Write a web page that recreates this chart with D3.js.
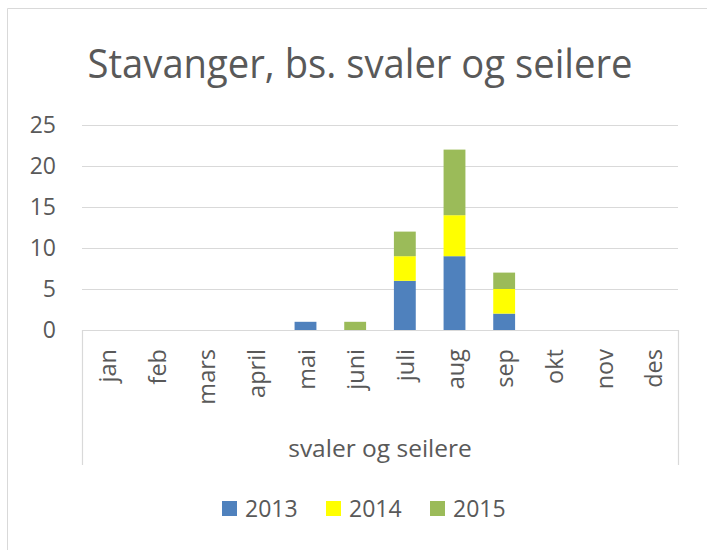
<!DOCTYPE html>
<html>
<head>
<meta charset="utf-8">
<script src="https://cdn.jsdelivr.net/npm/d3@7"></script>
<style>
  body { margin: 0; background: #fff; }
  text { font-family: "Open Sans", "Noto Sans", sans-serif; fill: #595959; }
</style>
</head>
<body>
<svg id="chart" width="707" height="550"></svg>
<script>
// chart data
let months = ['jan', 'feb', 'mars', 'april', 'mai', 'juni', 'juli', 'aug', 'sep', 'okt', 'nov', 'des'];
let years = ['2013', '2014', '2015'];
let values2013 = [0, 0, 0, 0, 1, 0, 6, 9, 2, 0, 0, 0];
let values2014 = [0, 0, 0, 0, 0, 0, 3, 5, 3, 0, 0, 0];
let values2015 = [0, 0, 0, 0, 0, 1, 3, 8, 2, 0, 0, 0];
let yTicks = [0, 5, 10, 15, 20, 25];
let colors = ['#4f81bd', '#ffff00', '#9bbb59'];
let title = 'Stavanger, bs. svaler og seilere';
let groupLabel = 'svaler og seilere';

let svg = d3.select('#chart');

// outer chart border (only left and top are in view)
svg.append('path')
    .attr('d', 'M7.5,550 V8.5 H707')
    .attr('fill', 'none')
    .attr('stroke', '#d9d9d9');

let rows = months.map((m, i) => ({
    month: m,
    '2013': values2013[i],
    '2014': values2014[i],
    '2015': values2015[i]
}));
let stacked = d3.stack().keys(years)(rows);

let x = d3.scaleBand().domain(months).range([82, 678]).paddingInner(0.56).paddingOuter(0.28);
let y = d3.scaleLinear().domain([0, 25]).range([330, 125]);

// gridlines
svg.append('g')
    .selectAll('line')
    .data(yTicks.filter(d => d > 0))
    .enter()
    .append('line')
    .attr('x1', 82).attr('x2', 678)
    .attr('y1', d => Math.round(y(d)) + 0.5)
    .attr('y2', d => Math.round(y(d)) + 0.5)
    .attr('stroke', '#d9d9d9')
    .attr('stroke-width', 1.2);

// y tick labels
svg.append('g')
    .selectAll('text')
    .data(yTicks)
    .enter()
    .append('text')
    .attr('x', 56)
    .attr('y', d => y(d) + 8)
    .attr('text-anchor', 'end')
    .style('font-size', '23px')
    .text(d => d);

// bars
svg.append('g')
    .selectAll('g')
    .data(stacked)
    .enter()
    .append('g')
    .attr('fill', (d, i) => colors[i])
    .selectAll('rect')
    .data(d => d)
    .enter()
    .append('rect')
    .attr('x', d => x(d.data.month))
    .attr('width', x.bandwidth())
    .attr('y', d => y(d[1]))
    .attr('height', d => y(d[0]) - y(d[1]));

// category box: baseline plus side lines
svg.append('path')
    .attr('d', 'M82.5,465 V330.5 H678.5 V465')
    .attr('fill', 'none')
    .attr('stroke', '#d9d9d9')
    .attr('stroke-width', 1.2);

// month labels, rotated
svg.append('g')
    .selectAll('text')
    .data(months)
    .enter()
    .append('text')
    .attr('transform', d => 'translate(' + (x(d) + x.bandwidth() / 2 + 9) + ',349) rotate(-90)')
    .attr('text-anchor', 'end')
    .style('font-size', '23.5px')
    .text(d => d);

svg.append('text')
    .attr('x', 380)
    .attr('y', 457)
    .attr('text-anchor', 'middle')
    .style('font-size', '24.5px')
    .text(groupLabel);

// title
let t = svg.append('text')
    .attr('x', 360)
    .attr('y', 78)
    .attr('text-anchor', 'middle')
    .style('font-size', '40px')
    .text(title);
let tw = t.node().getComputedTextLength();
if (tw > 545) t.attr('textLength', 545).attr('lengthAdjust', 'spacingAndGlyphs');

// legend
let legendX = [222, 326, 430];
let legend = svg.append('g')
    .selectAll('g')
    .data(years)
    .enter()
    .append('g')
    .attr('transform', (d, i) => 'translate(' + legendX[i] + ',501)');
legend.append('rect')
    .attr('width', 15).attr('height', 15)
    .attr('fill', (d, i) => colors[i]);
legend.append('text')
    .attr('x', 23)
    .attr('y', 16)
    .style('font-size', '23px')
    .text(d => d);
</script>
</body>
</html>
